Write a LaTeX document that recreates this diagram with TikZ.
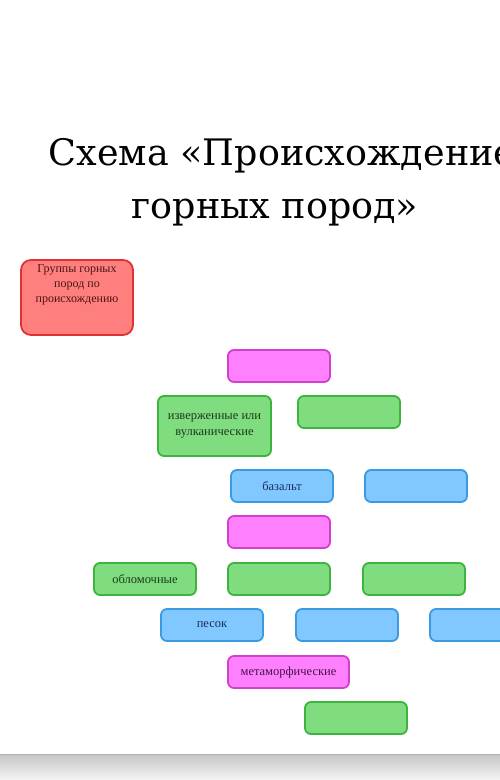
\documentclass[tikz,border=0pt]{standalone}
\usepackage{fontspec}
\setmainfont{Liberation Serif}
\newfontfamily\titlefont{DejaVu Serif}
\definecolor{gfill}{HTML}{7FDC7F}
\definecolor{gline}{HTML}{3DB43D}
\definecolor{gtext}{HTML}{1E3A1E}
\definecolor{bfill}{HTML}{80C8FF}
\definecolor{bline}{HTML}{3C9AE0}
\definecolor{btext}{HTML}{1A2E5A}
\definecolor{pfill}{HTML}{FF80FF}
\definecolor{pline}{HTML}{D040C8}
\definecolor{ptext}{HTML}{4A104A}
\definecolor{rfill}{HTML}{FF7F7F}
\definecolor{rline}{HTML}{E03232}
\definecolor{rtext}{HTML}{4A1414}
\begin{document}
\begin{tikzpicture}[x=1pt,y=-1pt,
  box/.style={rectangle, rounded corners=6pt, line width=1.8pt, inner sep=0pt,
    font=\fontsize{12.5}{16}\selectfont, align=center},
  gbox/.style={box, draw=gline, fill=gfill, text=gtext},
  bbox/.style={box, draw=bline, fill=bfill, text=btext},
  pbox/.style={box, draw=pline, fill=pfill, text=ptext},
  rbox/.style={box, rounded corners=10pt, draw=rline, fill=rfill, text=rtext,
    font=\fontsize{12}{15}\selectfont},
  ttl/.style={font=\titlefont\fontsize{36.5}{40}\selectfont, anchor=base, inner sep=0pt}
]
\useasboundingbox (0,0) rectangle (500,780);
\fill[white] (0,0) rectangle (500,780);
% bottom band
\shade[top color=gray!45, bottom color=gray!8] (0,754) rectangle (500,780);
\draw[gray!60, line width=0.8pt] (0,754) -- (500,754);

\node[ttl] (t1) at (282,165) {Схема «Происхождение};
\node[ttl] (t2) at (275,218) {горных пород»};

\node[rbox, minimum width=112pt, minimum height=75pt] (groups) at (77,297.5)
  {\parbox[t][66pt][t]{110pt}{\centering Группы горных\\ пород по\\ происхождению}};

\node[pbox, minimum width=102pt, minimum height=32pt] (p1) at (279,366) {};
\node[gbox, minimum width=113pt, minimum height=60pt] (g1) at (214.5,426) {изверженные или\\ вулканические};
\node[gbox, minimum width=102pt, minimum height=32pt] (g2) at (349,412) {};
\node[bbox, minimum width=102pt, minimum height=32pt] (b1) at (282,486) {базальт};
\node[bbox, minimum width=102pt, minimum height=32pt] (b2) at (416,486) {};
\node[pbox, minimum width=102pt, minimum height=32pt] (p2) at (279,532) {};
\node[gbox, minimum width=102pt, minimum height=32pt] (g3) at (145,579) {обломочные};
\node[gbox, minimum width=102pt, minimum height=32pt] (g4) at (279,579) {};
\node[gbox, minimum width=102pt, minimum height=32pt] (g5) at (414,579) {};
\node[bbox, minimum width=102pt, minimum height=32pt] (b3) at (212,625) {песок};
\node[bbox, minimum width=102pt, minimum height=32pt] (b4) at (347,625) {};
\node[bbox, minimum width=102pt, minimum height=32pt] (b5) at (481,625) {};
\node[pbox, minimum width=121pt, minimum height=32pt] (p3) at (288.5,672) {метаморфические};
\node[gbox, minimum width=102pt, minimum height=32pt] (g6) at (356,718) {};
\end{tikzpicture}
\end{document}
